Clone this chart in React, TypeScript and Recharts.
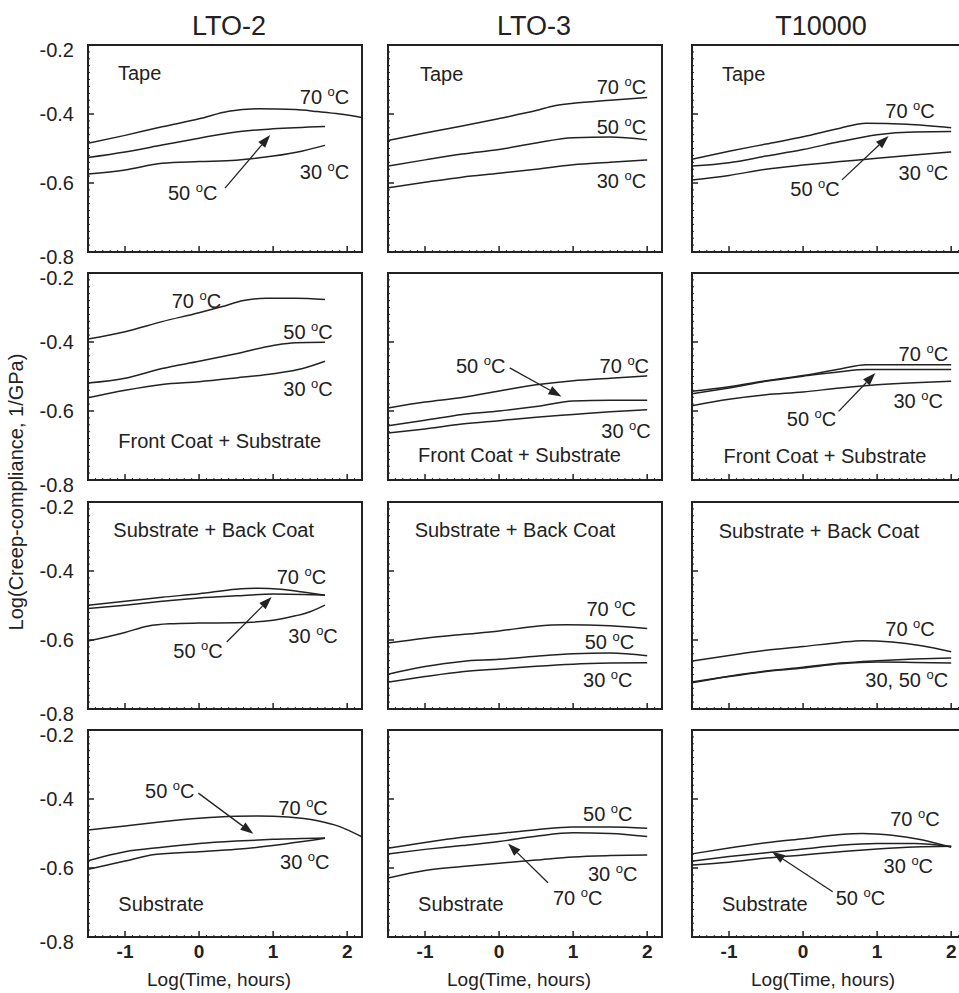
import React from 'react'
import { LineChart, Line, XAxis, YAxis, ReferenceArea, ReferenceDot, ReferenceLine } from 'recharts'

type Pt = [number, number]
type Note = { text: string; x: number; y: number }

const columnTitles = ['LTO-2', 'LTO-3', 'T10000']
const xMajorTicks = [-1, 0, 1, 2]
const yMajorTicks = [-0.8, -0.6, -0.4, -0.2]
const xDomain: [number, number] = [-1.5, 2.2]
const yDomain: [number, number] = [-0.8, -0.2]

// row 1: tape
const lto2Tape70: Pt[] = [[-1.5, -0.485], [-1, -0.462], [-0.5, -0.437], [0, -0.414], [0.4, -0.392], [0.8, -0.385], [1.3, -0.387], [1.6, -0.393], [1.9, -0.4], [2.2, -0.41]]
const lto2Tape50: Pt[] = [[-1.5, -0.526], [-1, -0.51], [-0.5, -0.49], [0, -0.47], [0.5, -0.452], [1, -0.443], [1.7, -0.436]]
const lto2Tape30: Pt[] = [[-1.5, -0.574], [-1, -0.562], [-0.5, -0.543], [0, -0.538], [0.5, -0.534], [1, -0.522], [1.4, -0.507], [1.7, -0.491]]
const lto3Tape70: Pt[] = [[-1.5, -0.477], [-1, -0.455], [-0.5, -0.435], [0, -0.413], [0.5, -0.39], [0.75, -0.376], [1, -0.369], [1.5, -0.36], [2, -0.352]]
const lto3Tape50: Pt[] = [[-1.5, -0.551], [-1, -0.533], [-0.5, -0.516], [0, -0.503], [0.5, -0.484], [1, -0.469], [1.5, -0.467], [2, -0.475]]
const lto3Tape30: Pt[] = [[-1.5, -0.614], [-1, -0.598], [-0.5, -0.583], [0, -0.572], [0.5, -0.56], [1, -0.547], [1.5, -0.54], [2, -0.533]]
const t10kTape70: Pt[] = [[-1.5, -0.531], [-1, -0.508], [-0.5, -0.487], [0, -0.466], [0.5, -0.441], [0.85, -0.427], [1.4, -0.43], [2, -0.44]]
const t10kTape50: Pt[] = [[-1.5, -0.551], [-1, -0.541], [-0.5, -0.522], [0, -0.503], [0.5, -0.48], [1, -0.46], [1.5, -0.452], [2, -0.451]]
const t10kTape30: Pt[] = [[-1.5, -0.591], [-1, -0.578], [-0.5, -0.56], [0, -0.548], [0.5, -0.538], [1, -0.528], [1.5, -0.519], [2, -0.51]]

// row 2: front coat + substrate
const lto2Front70: Pt[] = [[-1.5, -0.391], [-1, -0.37], [-0.5, -0.341], [0, -0.315], [0.3, -0.298], [0.6, -0.28], [0.9, -0.273], [1.3, -0.273], [1.7, -0.277]]
const lto2Front50: Pt[] = [[-1.5, -0.519], [-1, -0.505], [-0.5, -0.477], [0, -0.456], [0.5, -0.434], [1, -0.41], [1.3, -0.402], [1.7, -0.401]]
const lto2Front30: Pt[] = [[-1.5, -0.562], [-1, -0.54], [-0.5, -0.523], [0, -0.515], [0.5, -0.504], [1, -0.492], [1.4, -0.477], [1.7, -0.456]]
const lto3Front70: Pt[] = [[-1.5, -0.591], [-1, -0.574], [-0.5, -0.561], [0, -0.542], [0.5, -0.524], [1, -0.512], [1.5, -0.505], [2, -0.498]]
const lto3Front50: Pt[] = [[-1.5, -0.643], [-1, -0.627], [-0.5, -0.61], [0, -0.6], [0.5, -0.587], [1, -0.571], [1.5, -0.569], [2, -0.569]]
const lto3Front30: Pt[] = [[-1.5, -0.664], [-1, -0.652], [-0.5, -0.638], [0, -0.628], [0.5, -0.618], [1, -0.61], [1.5, -0.602], [2, -0.596]]
const t10kFront70: Pt[] = [[-1.5, -0.543], [-1, -0.53], [-0.5, -0.512], [0, -0.497], [0.5, -0.478], [0.85, -0.466], [1.5, -0.466], [2, -0.466]]
const t10kFront50: Pt[] = [[-1.5, -0.55], [-1, -0.533], [-0.5, -0.514], [0, -0.499], [0.5, -0.486], [0.85, -0.48], [1.5, -0.48], [2, -0.48]]
const t10kFront30: Pt[] = [[-1.5, -0.585], [-1, -0.566], [-0.5, -0.553], [0, -0.545], [0.5, -0.533], [1, -0.524], [1.5, -0.518], [2, -0.514]]

// row 3: substrate + back coat
const lto2Back70: Pt[] = [[-1.5, -0.499], [-1, -0.488], [-0.5, -0.476], [0, -0.466], [0.5, -0.453], [0.8, -0.45], [1.1, -0.453], [1.4, -0.461], [1.7, -0.47]]
const lto2Back50: Pt[] = [[-1.5, -0.509], [-1, -0.499], [-0.5, -0.488], [0, -0.478], [0.5, -0.472], [1, -0.467], [1.4, -0.468], [1.7, -0.47]]
const lto2Back30: Pt[] = [[-1.5, -0.603], [-1, -0.578], [-0.7, -0.56], [-0.4, -0.553], [0, -0.551], [0.5, -0.55], [1, -0.543], [1.3, -0.53], [1.5, -0.518], [1.7, -0.499]]
const lto3Back70: Pt[] = [[-1.5, -0.609], [-1, -0.595], [-0.5, -0.584], [0, -0.574], [0.5, -0.56], [0.9, -0.556], [1.5, -0.559], [2, -0.567]]
const lto3Back50: Pt[] = [[-1.5, -0.699], [-1, -0.677], [-0.5, -0.662], [0, -0.656], [0.5, -0.647], [1, -0.64], [1.5, -0.638], [2, -0.646]]
const lto3Back30: Pt[] = [[-1.5, -0.722], [-1, -0.706], [-0.5, -0.692], [0, -0.684], [0.5, -0.676], [1, -0.67], [1.5, -0.667], [2, -0.666]]
const t10kBack70: Pt[] = [[-1.5, -0.661], [-1, -0.645], [-0.5, -0.63], [0, -0.619], [0.5, -0.607], [0.8, -0.602], [1.2, -0.606], [1.6, -0.617], [2, -0.634]]
const t10kBack50: Pt[] = [[-1.5, -0.722], [-1, -0.705], [-0.5, -0.69], [0, -0.679], [0.5, -0.667], [1, -0.66], [1.5, -0.655], [2, -0.652]]
const t10kBack30: Pt[] = [[-1.5, -0.724], [-1, -0.706], [-0.5, -0.691], [0, -0.681], [0.5, -0.669], [1, -0.664], [1.5, -0.665], [2, -0.667]]

// row 4: substrate
const lto2Sub70: Pt[] = [[-1.5, -0.49], [-1, -0.478], [-0.5, -0.466], [0, -0.456], [0.5, -0.45], [0.8, -0.449], [1.2, -0.452], [1.6, -0.463], [1.9, -0.48], [2.2, -0.51]]
const lto2Sub50: Pt[] = [[-1.5, -0.579], [-1, -0.553], [-0.5, -0.54], [0, -0.529], [0.5, -0.522], [1, -0.517], [1.7, -0.513]]
const lto2Sub30: Pt[] = [[-1.5, -0.604], [-1, -0.58], [-0.6, -0.561], [0, -0.553], [0.5, -0.546], [1, -0.535], [1.4, -0.523], [1.7, -0.514]]
const lto3Sub70: Pt[] = [[-1.5, -0.559], [-1, -0.546], [-0.5, -0.535], [0, -0.523], [0.5, -0.508], [1, -0.498], [1.5, -0.5], [2, -0.509]]
const lto3Sub50: Pt[] = [[-1.5, -0.543], [-1, -0.526], [-0.5, -0.511], [0, -0.5], [0.5, -0.489], [1, -0.481], [1.5, -0.481], [2, -0.485]]
const lto3Sub30: Pt[] = [[-1.5, -0.629], [-1, -0.607], [-0.5, -0.596], [0, -0.586], [0.5, -0.577], [1, -0.568], [1.5, -0.564], [2, -0.562]]
const t10kSub70: Pt[] = [[-1.5, -0.559], [-1, -0.542], [-0.5, -0.527], [0, -0.515], [0.5, -0.503], [0.8, -0.5], [1.2, -0.505], [1.6, -0.518], [2, -0.54]]
const t10kSub50: Pt[] = [[-1.5, -0.58], [-1, -0.567], [-0.5, -0.556], [0, -0.545], [0.5, -0.534], [1, -0.529], [1.5, -0.529], [2, -0.538]]
const t10kSub30: Pt[] = [[-1.5, -0.591], [-1, -0.583], [-0.5, -0.571], [0, -0.562], [0.5, -0.553], [1, -0.545], [1.5, -0.539], [2, -0.537]]

// annotations (text placed from left edge, vertically centred)
const lto2TapeNotes: Note[] = [{ text: 'Tape', x: -1.095, y: -0.281 }, { text: '70 °C', x: 1.36, y: -0.351 }, { text: '30 °C', x: 1.36, y: -0.568 }, { text: '50 °C', x: -0.42, y: -0.629 }]
const lto3TapeNotes: Note[] = [{ text: 'Tape', x: -1.068, y: -0.284 }, { text: '70 °C', x: 1.318, y: -0.323 }, { text: '50 °C', x: 1.318, y: -0.439 }, { text: '30 °C', x: 1.318, y: -0.594 }]
const t10kTapeNotes: Note[] = [{ text: 'Tape', x: -1.095, y: -0.284 }, { text: '70 °C', x: 1.11, y: -0.391 }, { text: '30 °C', x: 1.29, y: -0.57 }, { text: '50 °C', x: -0.173, y: -0.617 }]
const lto2FrontNotes: Note[] = [{ text: '70 °C', x: -0.37, y: -0.282 }, { text: '50 °C', x: 1.137, y: -0.372 }, { text: '30 °C', x: 1.137, y: -0.536 }, { text: 'Front Coat + Substrate', x: -1.09, y: -0.688 }]
const lto3FrontNotes: Note[] = [{ text: '50 °C', x: -0.583, y: -0.469 }, { text: '70 °C', x: 1.357, y: -0.471 }, { text: '30 °C', x: 1.38, y: -0.657 }, { text: 'Front Coat + Substrate', x: -1.094, y: -0.727 }]
const t10kFrontNotes: Note[] = [{ text: '70 °C', x: 1.29, y: -0.434 }, { text: '30 °C', x: 1.22, y: -0.57 }, { text: '50 °C', x: -0.22, y: -0.623 }, { text: 'Front Coat + Substrate', x: -1.073, y: -0.729 }]
const lto2BackNotes: Note[] = [{ text: 'Substrate + Back Coat', x: -1.158, y: -0.282 }, { text: '70 °C', x: 1.048, y: -0.417 }, { text: '30 °C', x: 1.205, y: -0.589 }, { text: '50 °C', x: -0.348, y: -0.632 }]
const lto3BackNotes: Note[] = [{ text: 'Substrate + Back Coat', x: -1.14, y: -0.282 }, { text: '70 °C', x: 1.18, y: -0.509 }, { text: '50 °C', x: 1.156, y: -0.606 }, { text: '30 °C', x: 1.134, y: -0.717 }]
const t10kBackNotes: Note[] = [{ text: 'Substrate + Back Coat', x: -1.14, y: -0.284 }, { text: '70 °C', x: 1.11, y: -0.567 }, { text: '30, 50 °C', x: 0.84, y: -0.717 }]
const lto2SubNotes: Note[] = [{ text: '50 °C', x: -0.73, y: -0.376 }, { text: '70 °C', x: 1.07, y: -0.425 }, { text: '30 °C', x: 1.093, y: -0.584 }, { text: 'Substrate', x: -1.09, y: -0.705 }]
const lto3SubNotes: Note[] = [{ text: '50 °C', x: 1.134, y: -0.444 }, { text: '30 °C', x: 1.2, y: -0.618 }, { text: '70 °C', x: 0.728, y: -0.686 }, { text: 'Substrate', x: -1.094, y: -0.704 }]
const t10kSubNotes: Note[] = [{ text: '70 °C', x: 1.177, y: -0.459 }, { text: '30 °C', x: 1.087, y: -0.594 }, { text: '50 °C', x: 0.44, y: -0.686 }, { text: 'Substrate', x: -1.095, y: -0.704 }]

// arrows: [tail, head]
const lto2TapeArrow: Pt[] = [[0.35, -0.615], [0.96, -0.461]]
const t10kTapeArrow: Pt[] = [[0.525, -0.591], [1.154, -0.464]]
const lto3FrontArrow: Pt[] = [[0.143, -0.475], [0.842, -0.558]]
const t10kFrontArrow: Pt[] = [[0.48, -0.601], [0.976, -0.49]]
const lto2BackArrow: Pt[] = [[0.373, -0.606], [0.98, -0.475]]
const lto2SubArrow: Pt[] = [[-0.01, -0.383], [0.732, -0.501]]
const lto3SubArrow: Pt[] = [[0.66, -0.643], [0.12, -0.529]]
const t10kSubArrow: Pt[] = [[0.4, -0.669], [-0.42, -0.553]]

const panels = [
  { row: 0, col: 0, series: [lto2Tape70, lto2Tape50, lto2Tape30], notes: lto2TapeNotes, arrows: [lto2TapeArrow] },
  { row: 0, col: 1, series: [lto3Tape70, lto3Tape50, lto3Tape30], notes: lto3TapeNotes, arrows: [] },
  { row: 0, col: 2, series: [t10kTape70, t10kTape50, t10kTape30], notes: t10kTapeNotes, arrows: [t10kTapeArrow] },
  { row: 1, col: 0, series: [lto2Front70, lto2Front50, lto2Front30], notes: lto2FrontNotes, arrows: [] },
  { row: 1, col: 1, series: [lto3Front70, lto3Front50, lto3Front30], notes: lto3FrontNotes, arrows: [lto3FrontArrow] },
  { row: 1, col: 2, series: [t10kFront70, t10kFront50, t10kFront30], notes: t10kFrontNotes, arrows: [t10kFrontArrow] },
  { row: 2, col: 0, series: [lto2Back70, lto2Back50, lto2Back30], notes: lto2BackNotes, arrows: [lto2BackArrow] },
  { row: 2, col: 1, series: [lto3Back70, lto3Back50, lto3Back30], notes: lto3BackNotes, arrows: [] },
  { row: 2, col: 2, series: [t10kBack70, t10kBack50, t10kBack30], notes: t10kBackNotes, arrows: [] },
  { row: 3, col: 0, series: [lto2Sub70, lto2Sub50, lto2Sub30], notes: lto2SubNotes, arrows: [lto2SubArrow] },
  { row: 3, col: 1, series: [lto3Sub70, lto3Sub50, lto3Sub30], notes: lto3SubNotes, arrows: [lto3SubArrow] },
  { row: 3, col: 2, series: [t10kSub70, t10kSub50, t10kSub30], notes: t10kSubNotes, arrows: [t10kSubArrow] },
]

const INK = '#222'
const FONT = 'Arial, "Liberation Sans", Helvetica, sans-serif'
const colLeft = [88, 388, 692]
const rowTop = [45, 273, 502, 730]
const plotW = 274
const plotH = 207
const yAxisW = 60
const xAxisH = 60
const padTop = 20
const padRight = 10

// minor tick positions (0.1 on x, 0.02 on y)
const xTicks = Array.from({ length: 38 }, (_, i) => Math.round((xDomain[0] + i * 0.1) * 10) / 10)
const yTicks = Array.from({ length: 31 }, (_, i) => Math.round((yDomain[0] + i * 0.02) * 100) / 100)

const renderXTick = (p: any, showLabel: boolean) => {
  const v = p.payload.value
  const major = xMajorTicks.includes(v)
  return (
    <g>
      <line x1={p.x} x2={p.x} y1={p.y} y2={p.y - (major ? 6 : 2)} stroke={INK} strokeWidth={major ? 1.5 : 1} />
      {showLabel && major && (
        <text x={p.x} y={p.y + 21} textAnchor="middle" fontWeight="bold" fontSize={19} fill={INK}>{String(v)}</text>
      )}
    </g>
  )
}

const renderYTick = (p: any, showLabel: boolean) => {
  const v = p.payload.value
  const major = yMajorTicks.includes(v)
  const shift = v === -0.2 || v === -0.8 ? 5 : 0
  return (
    <g>
      <line x1={p.x} x2={p.x + (major ? 6 : 2)} y1={p.y} y2={p.y} stroke={INK} strokeWidth={major ? 1.5 : 1} />
      {showLabel && major && (
        <text x={p.x - 14} y={p.y + shift + 7} textAnchor="end" fontSize={20} fill={INK}>{v.toFixed(1)}</text>
      )}
    </g>
  )
}

const noteShape = (text: string) => (p: any) => {
  const deg = text.endsWith(' °C')
  const base = deg ? text.slice(0, -3) : text
  return (
    <text x={p.cx} y={p.cy + 7} fontSize={20} fill={INK}>
      {deg ? base + ' ' : base}
      {deg && <tspan fontSize={13} dy={-8}>o</tspan>}
      {deg && <tspan dy={8}>C</tspan>}
    </text>
  )
}

const arrowShape = (p: any) => {
  const { x1, y1, x2, y2 } = p
  const a = Math.atan2(y2 - y1, x2 - x1)
  const len = 13
  const half = 4.5
  const bx = x2 - len * Math.cos(a)
  const by = y2 - len * Math.sin(a)
  const pts = [
    [x2, y2],
    [bx + half * Math.sin(a), by - half * Math.cos(a)],
    [bx - half * Math.sin(a), by + half * Math.cos(a)],
  ]
  return (
    <g>
      <line x1={x1} y1={y1} x2={bx} y2={by} stroke={INK} strokeWidth={1.3} />
      <polygon points={pts.map((q) => q.join(',')).join(' ')} fill={INK} />
    </g>
  )
}

function Panel({ row, col, series, notes, arrows }: any) {
  return (
    <div style={{ position: 'absolute', left: colLeft[col] - yAxisW, top: rowTop[row] - padTop }}>
      <LineChart
        width={yAxisW + plotW + padRight}
        height={padTop + plotH + xAxisH}
        margin={{ top: padTop, right: padRight, bottom: 0, left: 0 }}
      >
        <XAxis
          type="number"
          dataKey="x"
          domain={xDomain}
          ticks={xTicks}
          interval={0}
          allowDataOverflow
          height={xAxisH}
          axisLine={false}
          tickLine={false}
          tickSize={0}
          tickMargin={0}
          tick={(p: any) => renderXTick(p, row === 3)}
        />
        <YAxis
          type="number"
          domain={yDomain}
          ticks={yTicks}
          interval={0}
          allowDataOverflow
          width={yAxisW}
          axisLine={false}
          tickLine={false}
          tickSize={0}
          tickMargin={0}
          tick={(p: any) => renderYTick(p, col === 0)}
        />
        {series.map((s: Pt[], i: number) => (
          <Line
            key={i}
            data={s.map(([x, y]) => ({ x, y }))}
            dataKey="y"
            type="monotone"
            stroke={INK}
            strokeWidth={1.5}
            dot={false}
            activeDot={false}
            isAnimationActive={false}
          />
        ))}
        {arrows.map((a: Pt[], i: number) => (
          <ReferenceLine
            key={'a' + i}
            segment={[{ x: a[0][0], y: a[0][1] }, { x: a[1][0], y: a[1][1] }]}
            shape={arrowShape}
          />
        ))}
        {notes.map((n: Note, i: number) => (
          <ReferenceDot key={'n' + i} x={n.x} y={n.y} r={1} shape={noteShape(n.text)} />
        ))}
        <ReferenceArea
          x1={xDomain[0]}
          x2={xDomain[1]}
          y1={yDomain[0]}
          y2={yDomain[1]}
          fill="none"
          fillOpacity={0}
          stroke={INK}
          strokeWidth={2}
          ifOverflow="visible"
        />
      </LineChart>
    </div>
  )
}

export default function App() {
  return (
    <div
      style={{
        position: 'absolute',
        left: 0,
        top: 0,
        width: 959,
        height: 993,
        overflow: 'hidden',
        background: '#fff',
        fontFamily: FONT,
      }}
    >
      {panels.map((p, i) => (
        <Panel key={i} {...p} />
      ))}
      <svg width={959} height={993} style={{ position: 'absolute', left: 0, top: 0, pointerEvents: 'none' }}>
        {columnTitles.map((t, i) => (
          <text key={t} x={[229, 534, 821][i]} y={35} textAnchor="middle" fontSize={27} fill={INK}>{t}</text>
        ))}
        {colLeft.map((l) => (
          <text key={l} x={l + plotW / 2 - 6} y={986} textAnchor="middle" fontSize={19} fill={INK}>Log(Time, hours)</text>
        ))}
        <text x={23} y={492} textAnchor="middle" fontSize={20} fill={INK} transform="rotate(-90 23 492)">
          Log(Creep-compliance, 1/GPa)
        </text>
      </svg>
    </div>
  )
}
